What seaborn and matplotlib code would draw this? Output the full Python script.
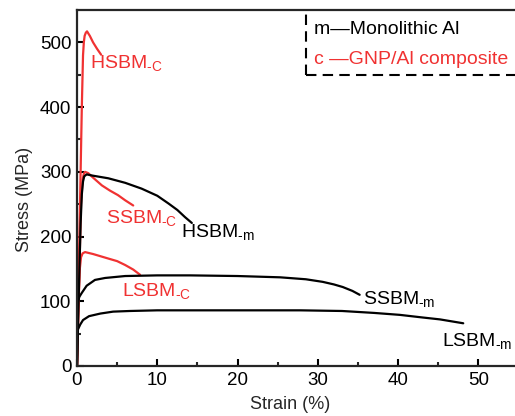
import matplotlib
matplotlib.use("Agg")
import matplotlib.pyplot as plt
import seaborn as sns
import pandas as pd
from matplotlib.lines import Line2D

sns.set_style("ticks")
plt.rcParams['font.family'] = ['Liberation Sans', 'DejaVu Sans']
plt.rcParams['mathtext.fontset'] = 'custom'
plt.rcParams['mathtext.rm'] = 'Liberation Sans'
plt.rcParams['mathtext.it'] = 'Liberation Sans'

RED = "#f03232"
BLACK = "#000000"

# ---- data ----
hsbm_c_x = [0, 0.3, 0.45, 0.6, 0.75, 0.85, 0.95, 1.1, 1.25, 1.6, 2.0, 2.5, 3.0]
hsbm_c_y = [0, 200, 300, 400, 480, 500, 510, 515, 517, 510, 500, 490, 481]

ssbm_c_x = [0, 0.3, 0.5, 0.7, 0.85, 1.0, 1.4, 2.0, 3.1, 4.1, 5.1, 6.0, 7.0]
ssbm_c_y = [0, 150, 250, 288, 297, 300, 298, 291, 279, 271, 264, 256, 248]

lsbm_c_x = [0, 0.2, 0.35, 0.5, 0.7, 1.0, 2.0, 3.9, 5.0, 6.0, 7.0, 7.85]
lsbm_c_y = [0, 100, 150, 168, 174, 176, 173, 166, 162, 156, 149, 141]

hsbm_m_x = [0, 0.3, 0.45, 0.6, 0.75, 0.9, 1.2, 2.0, 3.9, 6.0, 8.05, 10.0, 11.4, 12.5, 13.45, 14.3]
hsbm_m_y = [0, 150, 220, 265, 285, 293, 296, 294, 290, 283, 274, 263, 251, 241, 230, 221]

ssbm_m_x = [0, 0.05, 0.1, 0.3, 0.6, 1.2, 2.24, 3.5, 6.0, 10.0, 14.1, 20.0, 25.3, 28.5, 30.6, 32.0, 33.1, 34.3, 35.2]
ssbm_m_y = [0, 80, 99, 107, 113, 124, 133, 136, 139, 140, 140, 139, 137, 134, 130, 126, 122, 116, 110]

lsbm_m_x = [0, 0.05, 0.1, 0.4, 0.75, 1.5, 2.9, 4.5, 6.6, 10.0, 15.0, 20.0, 27.8, 33.0, 37.0, 40.2, 43.0, 45.2, 48.1]
lsbm_m_y = [0, 45, 56, 64, 71, 77, 81, 84, 85, 86, 86, 86, 86, 85, 82, 79, 75, 72, 66]

curves = [
    ("HSBM_c", hsbm_c_x, hsbm_c_y, RED),
    ("SSBM_c", ssbm_c_x, ssbm_c_y, RED),
    ("LSBM_c", lsbm_c_x, lsbm_c_y, RED),
    ("HSBM_m", hsbm_m_x, hsbm_m_y, BLACK),
    ("SSBM_m", ssbm_m_x, ssbm_m_y, BLACK),
    ("LSBM_m", lsbm_m_x, lsbm_m_y, BLACK),
]

# curve labels: (text, x, y, color)
labels = [
    (r"HSBM$_{\text{-C}}$", 1.6, 468, RED),
    (r"SSBM$_{\text{-C}}$", 3.6, 229, RED),
    (r"LSBM$_{\text{-C}}$", 5.6, 116, RED),
    (r"HSBM$_{\text{-m}}$", 12.9, 207, BLACK),
    (r"SSBM$_{\text{-m}}$", 35.6, 103, BLACK),
    (r"LSBM$_{\text{-m}}$", 45.4, 38, BLACK),
]

xticks = [0, 10, 20, 30, 40, 50]
yticks = [0, 100, 200, 300, 400, 500]

W, H = 515, 416
fig = plt.figure(figsize=(W / 100, H / 100), dpi=100)
left, bottom, top = 77, 366, 10
xmax = 60
px_per_unit = 80.3 / 10
axw = xmax * px_per_unit
axh = bottom - top
ax = fig.add_axes([left / W, (H - bottom) / H, axw / W, axh / H])

for name, xs, ys, col in curves:
    df = pd.DataFrame({"strain": xs, "stress": ys})
    sns.lineplot(data=df, x="strain", y="stress", sort=False, estimator=None,
                 color=col, lw=1.6, ax=ax)

for txt, x, y, col in labels:
    ax.text(x, y, txt, color=col, fontsize=14, ha="left", va="center")

ax.set_xlim(0, xmax)
ax.set_ylim(0, 550)
ax.set_xticks(xticks)
ax.set_yticks(yticks)
ax.set_xticks([5, 15, 25, 35, 45, 55], minor=True)
ax.set_yticks([50, 150, 250, 350, 450], minor=True)
ax.tick_params(which="major", direction="in", length=5, width=1.5, labelsize=13.5, pad=4, colors="black")
ax.tick_params(which="minor", direction="in", length=3, width=1.5)
for s in ax.spines.values():
    s.set_linewidth(1.6)
ax.set_xlabel("Strain (%)", fontsize=13)
ax.set_ylabel("Stress (MPa)", fontsize=13)
ax.xaxis.set_label_coords((290 - left) / axw, (bottom - 396) / axh)
ax.yaxis.set_label_coords((33 - left) / axw, (bottom - 199) / axh)

# dashed note box (top right)
bx = 306 / W
by = (H - 75) / H
ty = (H - top) / H
fig.add_artist(Line2D([bx, bx], [by, ty], transform=fig.transFigure, color="black",
                      lw=1.5, linestyle=(0, (5, 3))))
fig.add_artist(Line2D([bx, 1.05], [by, by], transform=fig.transFigure, color="black",
                      lw=1.5, linestyle=(0, (5, 3))))
fig.text(314 / W, (H - 30) / H, "m\u2014Monolithic Al", fontsize=14, color="black", va="center", ha="left")
fig.text(314 / W, (H - 60) / H, "c \u2014GNP/Al composite", fontsize=14, color=RED, va="center", ha="left")

fig.savefig("out.png", dpi=100)
